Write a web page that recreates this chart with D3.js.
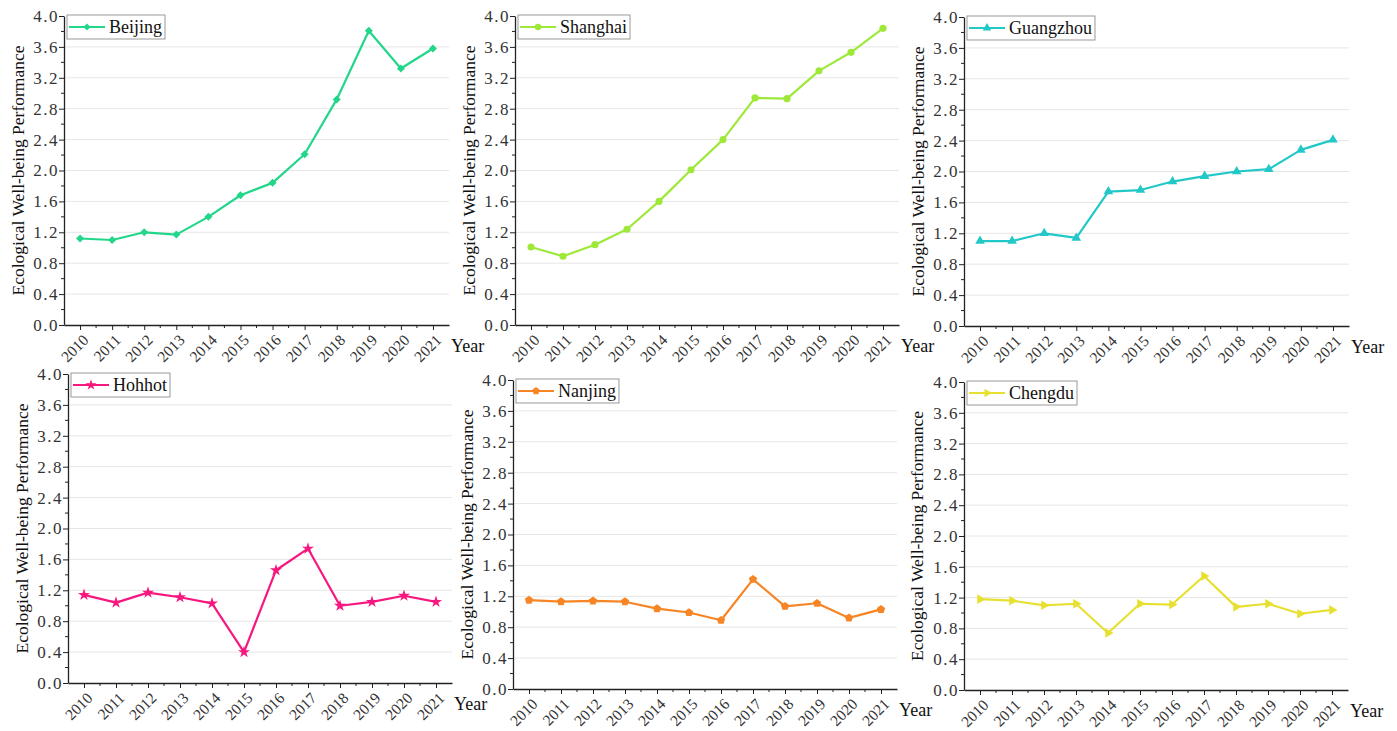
<!DOCTYPE html>
<html>
<head>
<meta charset="utf-8">
<script src="https://cdn.jsdelivr.net/npm/d3@7"></script>
<style>
  body { margin: 0; background: #fff; }
  svg text { font-family: "Liberation Serif", "Times New Roman", serif; }
</style>
</head>
<body>
<div id="chart-area"></div>
<script>
// data
const years = [2010, 2011, 2012, 2013, 2014, 2015, 2016, 2017, 2018, 2019, 2020, 2021];
const yTicks = [0, 0.4, 0.8, 1.2, 1.6, 2.0, 2.4, 2.8, 3.2, 3.6, 4.0];

const beijing   = [1.12, 1.10, 1.20, 1.17, 1.40, 1.68, 1.84, 2.21, 2.92, 3.81, 3.32, 3.58];
const shanghai  = [1.01, 0.89, 1.04, 1.24, 1.60, 2.01, 2.40, 2.94, 2.93, 3.29, 3.53, 3.84];
const guangzhou = [1.10, 1.10, 1.20, 1.14, 1.74, 1.76, 1.87, 1.94, 2.00, 2.03, 2.28, 2.41];
const hohhot    = [1.14, 1.04, 1.17, 1.11, 1.03, 0.40, 1.46, 1.74, 1.00, 1.05, 1.13, 1.05];
const nanjing   = [1.15, 1.13, 1.14, 1.13, 1.04, 0.99, 0.89, 1.42, 1.07, 1.11, 0.92, 1.03];
const chengdu   = [1.18, 1.16, 1.10, 1.12, 0.74, 1.12, 1.11, 1.48, 1.08, 1.12, 0.99, 1.04];

const cities = ['Beijing', 'Shanghai', 'Guangzhou', 'Hohhot', 'Nanjing', 'Chengdu'];
const series = [beijing, shanghai, guangzhou, hohhot, nanjing, chengdu];

const FONT = '"Liberation Serif", "Times New Roman", serif';

// pentagon marker (d3 has none)
const symbolPentagon = {
  draw(ctx, size) {
    const r = Math.sqrt(size / 2.38);
    for (let i = 0; i < 5; i++) {
      const a = -Math.PI / 2 + i * 2 * Math.PI / 5;
      const px = r * Math.cos(a), py = r * Math.sin(a);
      i ? ctx.lineTo(px, py) : ctx.moveTo(px, py);
    }
    ctx.closePath();
  }
};

const styles = [
  { color: '#22d68a', symbol: d3.symbolSquare, size: 32, rot: 45 },
  { color: '#9ee83a', symbol: d3.symbolCircle, size: 40, rot: 0 },
  { color: '#22c8c8', symbol: d3.symbolTriangle, size: 40, rot: 0 },
  { color: '#f7177f', symbol: d3.symbolStar, size: 45, rot: 0 },
  { color: '#f78525', symbol: symbolPentagon, size: 45, rot: 0 },
  { color: '#e8e031', symbol: d3.symbolTriangle, size: 40, rot: 90 }
];

// panel frames: left axis x, top y, bottom y, right end
const frames = [
  { left: 64, top: 16, bottom: 325, right: 449, labelX: 18 },
  { left: 515, top: 16, bottom: 325, right: 899, labelX: 469 },
  { left: 964, top: 17, bottom: 326, right: 1349, labelX: 918 },
  { left: 68, top: 374, bottom: 683, right: 452, labelX: 22 },
  { left: 513, top: 380, bottom: 689, right: 897, labelX: 467 },
  { left: 964, top: 382, bottom: 690, right: 1348, labelX: 917 }
];

const svg = d3.select('#chart-area')
  .append('svg')
  .attr('width', 1397)
  .attr('height', 731)
  .attr('font-family', FONT);

const drawPanel = (frame, city, values, style) => {
  const g = svg.append('g');
  const x = d3.scaleLinear().domain([2009.5, 2021.5]).range([frame.left, frame.right]);
  const y = d3.scaleLinear().domain([0, 4]).range([frame.bottom, frame.top]);

  // grid
  g.selectAll('.grid')
    .data(yTicks.filter(t => t > 0 && t < 4))
    .enter().append('line')
    .attr('x1', frame.left).attr('x2', frame.right)
    .attr('y1', d => y(d)).attr('y2', d => y(d))
    .attr('stroke', '#e6e6e6').attr('stroke-width', 1);

  // minor ticks
  const minorY = d3.range(0.2, 4, 0.4);
  g.selectAll('.minor-y')
    .data(minorY).enter().append('line')
    .attr('x1', frame.left - 3).attr('x2', frame.left)
    .attr('y1', d => y(d)).attr('y2', d => y(d))
    .attr('stroke', '#222');
  const minorX = years.slice(0, -1).map(d => d + 0.5);
  g.selectAll('.minor-x')
    .data(minorX).enter().append('line')
    .attr('y1', frame.bottom).attr('y2', frame.bottom + 3)
    .attr('x1', d => x(d)).attr('x2', d => x(d))
    .attr('stroke', '#222');

  // y axis
  const yAxis = g.append('g')
    .attr('transform', `translate(${frame.left},0)`)
    .call(d3.axisLeft(y).tickValues(yTicks).tickFormat(d3.format('.1f')).tickSize(5).tickSizeOuter(0))
    .attr('font-family', FONT);
  yAxis.select('.domain').attr('stroke', '#222').attr('stroke-width', 1.3);
  yAxis.selectAll('.tick line').attr('stroke', '#222');
  yAxis.selectAll('.tick text')
    .attr('font-size', '17px')
    .attr('fill', '#333')
    .attr('letter-spacing', '1.5px')
    .attr('x', -5);

  // x axis
  const xAxis = g.append('g')
    .attr('transform', `translate(0,${frame.bottom})`)
    .call(d3.axisBottom(x).tickValues(years).tickFormat(d3.format('d')).tickSize(5).tickSizeOuter(0))
    .attr('font-family', FONT);
  xAxis.select('.domain').attr('stroke', '#222').attr('stroke-width', 1.3);
  xAxis.selectAll('.tick line').attr('stroke', '#222');
  xAxis.selectAll('.tick text')
    .attr('font-size', '15.5px')
    .attr('fill', '#333')
    .attr('text-anchor', 'end')
    .attr('x', 0).attr('y', 0).attr('dy', 0)
    .attr('transform', 'translate(9,16) rotate(-45)');

  g.append('text')
    .attr('x', frame.right + 2)
    .attr('y', frame.bottom + 27)
    .attr('font-size', '18px')
    .attr('fill', '#111')
    .text('Year');

  g.append('text')
    .attr('transform', `translate(${frame.labelX},${(frame.top + frame.bottom) / 2}) rotate(-90)`)
    .attr('text-anchor', 'middle')
    .attr('dy', '0.35em')
    .attr('font-size', '17.5px')
    .attr('fill', '#111')
    .text('Ecological Well-being Performance');

  // line + markers
  const pts = years.map((yr, i) => ({ yr, v: values[i] }));
  g.append('path')
    .datum(pts)
    .attr('fill', 'none')
    .attr('stroke', style.color)
    .attr('stroke-width', 2.2)
    .attr('stroke-linejoin', 'round')
    .attr('d', d3.line().x(d => x(d.yr)).y(d => y(d.v)));

  const sym = d3.symbol().type(style.symbol).size(style.size);
  g.selectAll('.pt')
    .data(pts).enter().append('path')
    .attr('transform', d => `translate(${x(d.yr)},${y(d.v)}) rotate(${style.rot})`)
    .attr('d', sym)
    .attr('fill', style.color);

  // legend
  const lx = frame.left + 3, ly = frame.top - 1;
  const leg = g.append('g');
  const box = leg.append('rect')
    .attr('x', lx).attr('y', ly).attr('height', 24)
    .attr('fill', '#fff').attr('stroke', '#999').attr('stroke-width', 1);
  leg.append('line')
    .attr('x1', lx + 2).attr('x2', lx + 38)
    .attr('y1', ly + 12).attr('y2', ly + 12)
    .attr('stroke', style.color).attr('stroke-width', 2.2);
  leg.append('path')
    .attr('transform', `translate(${lx + 20},${ly + 12}) rotate(${style.rot})`)
    .attr('d', d3.symbol().type(style.symbol).size(style.size * 0.8))
    .attr('fill', style.color);
  const txt = leg.append('text')
    .attr('x', lx + 42).attr('y', ly + 18)
    .attr('font-size', '18px')
    .attr('fill', '#111')
    .text(city);
  box.attr('width', txt.node().getComputedTextLength() + 45);
};

cities.forEach((c, i) => drawPanel(frames[i], c, series[i], styles[i]));
</script>
</body>
</html>
